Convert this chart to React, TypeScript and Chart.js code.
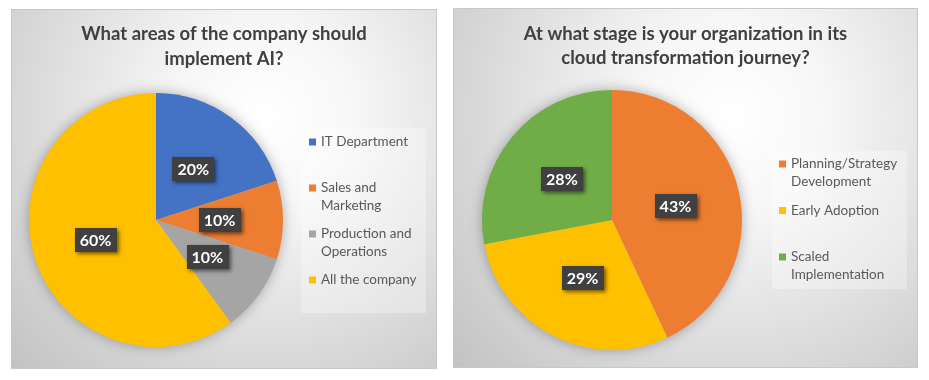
import React, { useEffect, useRef } from "react";
import { Chart, registerables } from "chart.js";

Chart.register(...registerables);

// ---- Data ----
const aiTitle = ["What areas of the company should", "implement AI?"];
const aiLabels = ["IT Department", "Sales and Marketing", "Production and Operations", "All the company"];
const aiValues = [20, 10, 10, 60];
const aiColors = ["#4472C4", "#ED7D31", "#A5A5A5", "#FFC000"];

const cloudTitle = ["At what stage is your organization in its", "cloud transformation journey?"];
const cloudLabels = ["Planning/Strategy Development", "Early Adoption", "Scaled Implementation"];
const cloudValues = [43, 29, 28];
const cloudColors = ["#ED7D31", "#FFC000", "#70AD47"];

const FONT = "Lato, 'Open Sans', sans-serif";

type PanelCfg = {
  left: number;
  top: number;
  width: number;
  height: number;
  padding: { left: number; top: number; right: number; bottom: number };
  title: string[];
  titleY: number[];
  labels: string[];
  values: number[];
  colors: string[];
  legendBox: { x: number; y: number; w: number; h: number };
  legendSquareX: number;
  legendTextX: number;
  legendFirstY: number;
  legendSlot: number;
  legendWrap: number;
};

function wrapText(ctx: CanvasRenderingContext2D, text: string, maxW: number): string[] {
  const words = text.split(" ");
  const lines: string[] = [];
  let cur = "";
  for (const w of words) {
    const test = cur ? cur + " " + w : w;
    if (cur && ctx.measureText(test).width > maxW) {
      lines.push(cur);
      cur = w;
    } else {
      cur = test;
    }
  }
  if (cur) lines.push(cur);
  return lines;
}

function makePlugin(cfg: PanelCfg) {
  return {
    id: "excelLook",
    beforeDraw(chart: any) {
      const ctx = chart.ctx as CanvasRenderingContext2D;
      const w = chart.width;
      const h = chart.height;
      ctx.save();
      const cx = w * 0.6;
      const cy = h * 0.3;
      const g = ctx.createRadialGradient(cx, cy, 0, cx, cy, Math.hypot(cx, h - cy));
      g.addColorStop(0, "#ffffff");
      g.addColorStop(0.25, "#f7f7f7");
      g.addColorStop(1, "#c2c2c2");
      ctx.fillStyle = g;
      ctx.fillRect(0, 0, w, h);
      ctx.strokeStyle = "#c8c8c8";
      ctx.lineWidth = 1;
      ctx.strokeRect(0.5, 0.5, w - 1, h - 1);
      ctx.restore();
    },
    beforeDatasetsDraw(chart: any) {
      const ctx = chart.ctx as CanvasRenderingContext2D;
      const arc = chart.getDatasetMeta(0).data[0];
      if (!arc) return;
      ctx.save();
      ctx.shadowColor = "rgba(0,0,0,0.35)";
      ctx.shadowBlur = 14;
      ctx.fillStyle = "#bbbbbb";
      ctx.beginPath();
      ctx.arc(arc.x, arc.y, arc.outerRadius - 1, 0, Math.PI * 2);
      ctx.fill();
      ctx.restore();
    },
    afterDraw(chart: any) {
      const ctx = chart.ctx as CanvasRenderingContext2D;
      const w = chart.width;
      ctx.save();
      // Title
      ctx.fillStyle = "#404040";
      ctx.font = `bold 18.5px ${FONT}`;
      ctx.textAlign = "center";
      ctx.textBaseline = "middle";
      cfg.title.forEach((t, i) => ctx.fillText(t, w / 2, cfg.titleY[i]));

      // Legend
      const lb = cfg.legendBox;
      ctx.fillStyle = "rgba(255,255,255,0.3)";
      ctx.fillRect(lb.x, lb.y, lb.w, lb.h);
      ctx.font = `13.5px ${FONT}`;
      ctx.textAlign = "left";
      cfg.labels.forEach((label, i) => {
        const y0 = cfg.legendFirstY + i * cfg.legendSlot;
        ctx.fillStyle = cfg.colors[i];
        ctx.fillRect(cfg.legendSquareX, y0 - 3.5, 7, 7);
        ctx.fillStyle = "#595959";
        const lines = wrapText(ctx, label, cfg.legendWrap);
        lines.forEach((ln, j) => ctx.fillText(ln, cfg.legendTextX, y0 + j * 18));
      });

      // Data labels
      const meta = chart.getDatasetMeta(0);
      const total = cfg.values.reduce((a, b) => a + b, 0);
      ctx.font = `bold 16px ${FONT}`;
      ctx.textAlign = "center";
      meta.data.forEach((el: any, i: number) => {
        const p = el.getCenterPoint();
        const txt = Math.round((cfg.values[i] / total) * 100) + "%";
        const tw = ctx.measureText(txt).width;
        const bw = tw + 10;
        const bh = 24;
        ctx.save();
        ctx.shadowColor = "rgba(0,0,0,0.55)";
        ctx.shadowBlur = 4;
        ctx.shadowOffsetX = 2;
        ctx.shadowOffsetY = 2;
        ctx.fillStyle = "#404040";
        ctx.fillRect(Math.round(p.x - bw / 2), Math.round(p.y - bh / 2), Math.round(bw), bh);
        ctx.restore();
        ctx.fillStyle = "#ffffff";
        ctx.fillText(txt, p.x, p.y + 1);
      });
      ctx.restore();
    },
  };
}

function PiePanel({ cfg }: { cfg: PanelCfg }) {
  const ref = useRef<HTMLCanvasElement>(null);
  useEffect(() => {
    if (!ref.current) return;
    const chart = new Chart(ref.current, {
      type: "pie",
      data: {
        labels: cfg.labels,
        datasets: [
          {
            data: cfg.values,
            backgroundColor: cfg.colors,
            borderWidth: 0,
          },
        ],
      },
      options: {
        responsive: false,
        maintainAspectRatio: false,
        animation: false,
        layout: { padding: cfg.padding },
        plugins: {
          legend: { display: false },
          title: { display: false },
          tooltip: { enabled: false },
        },
      },
      plugins: [makePlugin(cfg)],
    });
    return () => chart.destroy();
  }, [cfg]);
  return (
    <div style={{ position: "absolute", left: cfg.left, top: cfg.top, width: cfg.width, height: cfg.height }}>
      <canvas ref={ref} width={cfg.width} height={cfg.height} />
    </div>
  );
}

const leftCfg: PanelCfg = {
  left: 3,
  top: 1,
  width: 426,
  height: 360,
  padding: { left: 18, top: 84, right: 154, bottom: 22 },
  title: aiTitle,
  titleY: [25, 50],
  labels: aiLabels,
  values: aiValues,
  colors: aiColors,
  legendBox: { x: 290, y: 119, w: 125, h: 185 },
  legendSquareX: 298,
  legendTextX: 310,
  legendFirstY: 133,
  legendSlot: 46,
  legendWrap: 104,
};

const rightCfg: PanelCfg = {
  left: 445,
  top: 0,
  width: 465,
  height: 360,
  padding: { left: 29, top: 82, right: 176, bottom: 18 },
  title: cloudTitle,
  titleY: [26, 50],
  labels: cloudLabels,
  values: cloudValues,
  colors: cloudColors,
  legendBox: { x: 319, y: 143, w: 135, h: 138 },
  legendSquareX: 326,
  legendTextX: 338,
  legendFirstY: 156,
  legendSlot: 46.5,
  legendWrap: 114,
};

export default function App() {
  return (
    <div style={{ position: "relative", width: 913, height: 364 }}>
      <PiePanel cfg={leftCfg} />
      <PiePanel cfg={rightCfg} />
    </div>
  );
}
